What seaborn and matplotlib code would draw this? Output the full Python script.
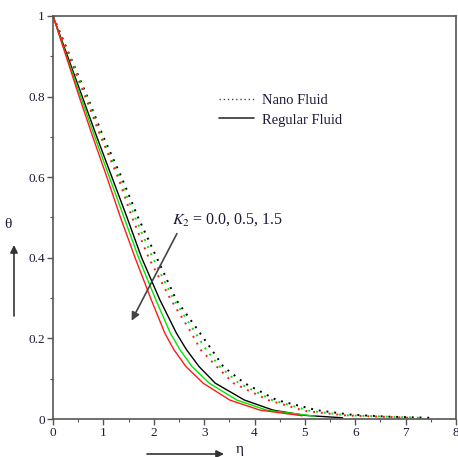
import matplotlib
matplotlib.use("Agg")
import matplotlib.pyplot as plt
from matplotlib.lines import Line2D
from matplotlib.ticker import MultipleLocator
import pandas as pd
import seaborn as sns

# Regular fluid (solid lines), K2 = 0.0 / 0.5 / 1.5
REG_K00_ETA = [0, 0.29, 0.58, 0.87, 1.17, 1.47, 1.76, 2.12, 2.45, 2.65, 2.90, 3.22, 3.80, 4.37, 5.0, 5.75]
REG_K00_THETA = [1, 0.9, 0.8, 0.7, 0.6, 0.5, 0.4, 0.296, 0.213, 0.172, 0.130, 0.089, 0.047, 0.022, 0.009, 0.003]
REG_K05_ETA = [0, 0.27, 0.55, 0.83, 1.12, 1.41, 1.70, 2.04, 2.33, 2.52, 2.76, 3.10, 3.65, 4.24, 5.2]
REG_K05_THETA = [1, 0.9, 0.8, 0.7, 0.6, 0.5, 0.4, 0.296, 0.213, 0.172, 0.130, 0.089, 0.047, 0.022, 0.007]
REG_K15_ETA = [0, 0.26, 0.52, 0.79, 1.07, 1.34, 1.63, 1.95, 2.22, 2.40, 2.64, 2.98, 3.51, 4.11, 4.95]
REG_K15_THETA = [1, 0.9, 0.8, 0.7, 0.6, 0.5, 0.4, 0.296, 0.213, 0.172, 0.130, 0.089, 0.047, 0.022, 0.008]

# Nano fluid (dotted lines)
NANO_K00_ETA = [0, 0.34, 0.68, 1.0, 1.36, 1.69, 2.06, 2.45, 2.92, 3.15, 3.38, 3.80, 4.44, 5.23, 5.9, 6.6, 7.48]
NANO_K00_THETA = [1, 0.9, 0.8, 0.7, 0.6, 0.5, 0.4, 0.295, 0.213, 0.172, 0.130, 0.089, 0.047, 0.022, 0.011, 0.006, 0.003]
NANO_K05_ETA = [0, 0.33, 0.66, 0.97, 1.32, 1.63, 1.98, 2.39, 2.83, 3.04, 3.31, 3.69, 4.35, 5.1, 5.85, 7.3]
NANO_K05_THETA = [1, 0.9, 0.8, 0.7, 0.6, 0.5, 0.4, 0.298, 0.213, 0.172, 0.130, 0.089, 0.047, 0.020, 0.009, 0.003]
NANO_K15_ETA = [0, 0.32, 0.64, 0.95, 1.29, 1.57, 1.90, 2.33, 2.75, 2.93, 3.25, 3.58, 4.27, 5.0, 5.8, 7.1]
NANO_K15_THETA = [1, 0.9, 0.8, 0.7, 0.6, 0.5, 0.4, 0.298, 0.213, 0.172, 0.130, 0.089, 0.047, 0.020, 0.009, 0.003]

Y_TICKS = [0, 0.2, 0.4, 0.6, 0.8, 1]
Y_TICK_LABELS = ["0", "0.2", "0.4", "0.6", "0.8", "1"]
X_TICKS = [0, 1, 2, 3, 4, 5, 6, 7, 8]

PALETTE = {"0.0": "#000000", "0.5": "#00e600", "1.5": "#ff1a1a"}
TEXT_COLOR = "#1c1c3a"
SPINE_COLOR = "#555555"


def build_frame() -> pd.DataFrame:
    curves = [
        ("Regular", "0.0", REG_K00_ETA, REG_K00_THETA),
        ("Regular", "0.5", REG_K05_ETA, REG_K05_THETA),
        ("Regular", "1.5", REG_K15_ETA, REG_K15_THETA),
        ("Nano", "0.0", NANO_K00_ETA, NANO_K00_THETA),
        ("Nano", "0.5", NANO_K05_ETA, NANO_K05_THETA),
        ("Nano", "1.5", NANO_K15_ETA, NANO_K15_THETA),
    ]
    frames = [
        pd.DataFrame({"eta": eta, "theta": theta, "fluid": fluid, "K2": k})
        for fluid, k, eta, theta in curves
    ]
    return pd.concat(frames, ignore_index=True)


sns.set_style("white")
plt.rcParams["font.family"] = ["Liberation Serif", "DejaVu Serif"]
plt.rcParams["mathtext.fontset"] = "stix"

df = build_frame()

fig = plt.figure(figsize=(4.58, 4.57), dpi=100)
ax = fig.add_axes([53 / 458, 38 / 457, 403 / 458, 403 / 457])

sns.lineplot(
    data=df, x="eta", y="theta", hue="K2", style="fluid",
    palette=PALETTE, dashes={"Regular": "", "Nano": (1, 3)},
    estimator=None, sort=False, linewidth=1.0, legend=False, ax=ax,
)
# dotted lines a bit heavier so the dots show
for line in ax.get_lines():
    if line.get_linestyle() != "-":
        line.set_linewidth(1.4)

ax.set_xlim(0, 8)
ax.set_ylim(0, 1)
ax.set_xticks(X_TICKS)
ax.set_yticks(Y_TICKS)
ax.set_yticklabels(Y_TICK_LABELS)
ax.xaxis.set_minor_locator(MultipleLocator(0.5))
ax.yaxis.set_minor_locator(MultipleLocator(0.1))
ax.tick_params(which="major", direction="out", length=4, width=1.0,
               color=SPINE_COLOR, labelsize=9.5, labelcolor=TEXT_COLOR, pad=2,
               bottom=True, left=True)
ax.tick_params(which="minor", direction="out", length=2.5, width=0.8,
               color=SPINE_COLOR, bottom=True, left=True)
ax.set_xlabel("")
ax.set_ylabel("")
for spine in ax.spines.values():
    spine.set_color(SPINE_COLOR)
    spine.set_linewidth(1.2)

handles = [
    Line2D([], [], color="#444444", linestyle=(0, (1, 2)), linewidth=1.0),
    Line2D([], [], color="#333333", linestyle="-", linewidth=1.2),
]
ax.legend(handles, ["Nano Fluid", "Regular Fluid"], loc="upper left",
          bbox_to_anchor=(0.38, 0.84), frameon=False, fontsize=10.5,
          handlelength=2.4, handletextpad=0.5, labelspacing=0.45,
          labelcolor=TEXT_COLOR)

ax.text(2.36, 0.495, r"$K_2$ = 0.0, 0.5, 1.5", fontsize=11.5,
        color=TEXT_COLOR, va="center", ha="left")
ax.annotate("", xy=(1.56, 0.244), xytext=(2.46, 0.46),
            arrowprops=dict(arrowstyle="-|>", color="#444444", lw=1.2,
                            mutation_scale=12, shrinkA=0, shrinkB=0))

# axis names with arrows outside the frame
fig.text(8 / 458, 1 - 225 / 457, "θ", fontsize=11, color=TEXT_COLOR,
         ha="center", va="center")
ax.annotate("", xy=(14 / 458, 1 - 245 / 457), xytext=(14 / 458, 1 - 316 / 457),
            xycoords="figure fraction", textcoords="figure fraction",
            arrowprops=dict(arrowstyle="-|>", color="#333333", lw=1.2,
                            mutation_scale=11, shrinkA=0, shrinkB=0))
ax.annotate("", xy=(224 / 458, 3 / 457), xytext=(147 / 458, 3 / 457),
            xycoords="figure fraction", textcoords="figure fraction",
            arrowprops=dict(arrowstyle="-|>", color="#333333", lw=1.2,
                            mutation_scale=11, shrinkA=0, shrinkB=0))
fig.text(240 / 458, 1 / 457, "η", fontsize=11, color=TEXT_COLOR,
         ha="center", va="bottom")

fig.savefig("out.png", dpi=100)
